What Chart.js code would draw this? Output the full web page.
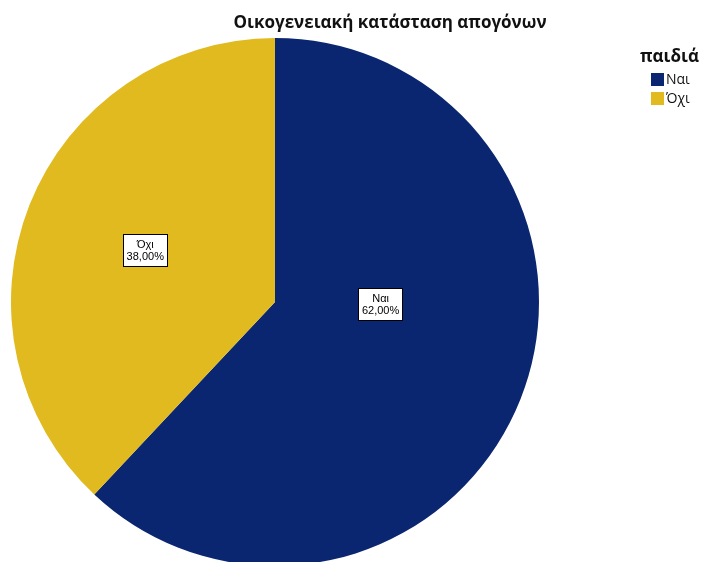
<!DOCTYPE html>
<html>
<head>
<meta charset="utf-8">
<script src="https://cdn.jsdelivr.net/npm/chart.js@4"></script>
<style>
  html, body { margin: 0; padding: 0; background: #ffffff; overflow: hidden; }
  #wrap { position: relative; width: 702px; height: 562px; overflow: hidden; }
  canvas { display: block; }
</style>
</head>
<body>
<div id="wrap"><canvas id="pie" width="702" height="600"></canvas></div>
<script>
// Marital status of offspring: share answering yes / no
const categories = ['Ναι', 'Όχι'];
const percentages = [62.0, 38.0];
const sliceColors = ['#0B2670', '#E0BA1E'];
const chartTitle = 'Οικογενειακή κατάσταση απογόνων';
const legendTitle = 'παιδιά';

// where each value tag sits: clockwise degrees from 12 o'clock, fraction of the radius
const tagAngles = [91, 292];
const tagRadii = [0.40, 0.53];

const FONT = '"Liberation Sans", Arial, sans-serif';
const HEAD_FONT = '"Open Sans", "Liberation Sans", sans-serif';

function formatPct(v) {
  return v.toFixed(2).replace('.', ',') + '%';
}

const decorations = {
  id: 'decorations',
  afterDatasetsDraw(chart) {
    const ctx = chart.ctx;
    const meta = chart.getDatasetMeta(0);
    ctx.save();

    // value tags inside the slices
    ctx.font = '11px ' + FONT;
    ctx.textAlign = 'center';
    ctx.textBaseline = 'middle';
    meta.data.forEach((arc, i) => {
      const a = tagAngles[i] * Math.PI / 180;
      const r = arc.outerRadius * tagRadii[i];
      const x = arc.x + Math.sin(a) * r;
      const y = arc.y - Math.cos(a) * r;
      const lines = [categories[i], formatPct(percentages[i])];
      const w = Math.max(...lines.map(t => ctx.measureText(t).width)) + 7;
      const lh = 12;
      const h = 32;
      const bx = Math.round(x - w / 2) + 0.5;
      const by = Math.round(y - h / 2) + 0.5;
      ctx.fillStyle = '#ffffff';
      ctx.fillRect(bx, by, Math.round(w), h);
      ctx.strokeStyle = '#000000';
      ctx.lineWidth = 1;
      ctx.strokeRect(bx, by, Math.round(w), h);
      ctx.fillStyle = '#000000';
      ctx.fillText(lines[0], x, y - lh / 2 + 1);
      ctx.fillText(lines[1], x, y + lh / 2 + 1);
    });

    // chart heading
    ctx.font = 'bold 17px ' + HEAD_FONT;
    ctx.fillStyle = '#111111';
    ctx.textAlign = 'center';
    ctx.textBaseline = 'middle';
    ctx.fillText(chartTitle, 390, 23);

    // legend
    ctx.font = 'bold 17px ' + HEAD_FONT;
    ctx.textAlign = 'left';
    ctx.fillText(legendTitle, 640, 57);
    ctx.font = '14px ' + HEAD_FONT;
    categories.forEach((c, i) => {
      const y = 73 + i * 19;
      ctx.fillStyle = sliceColors[i];
      ctx.fillRect(651, y, 13, 13);
      ctx.fillStyle = '#111111';
      ctx.fillText(c, 666, y + 7);
    });
    ctx.restore();
  }
};

new Chart(document.getElementById('pie'), {
  type: 'pie',
  data: {
    labels: categories,
    datasets: [{
      data: percentages,
      backgroundColor: sliceColors,
      borderWidth: 0,
      hoverOffset: 0
    }]
  },
  options: {
    responsive: false,
    animation: false,
    devicePixelRatio: 1,
    layout: { padding: { left: 11, right: 163, top: 38, bottom: 34 } },
    plugins: {
      legend: { display: false },
      title: { display: false },
      tooltip: { enabled: false }
    }
  },
  plugins: [decorations]
});
</script>
</body>
</html>
